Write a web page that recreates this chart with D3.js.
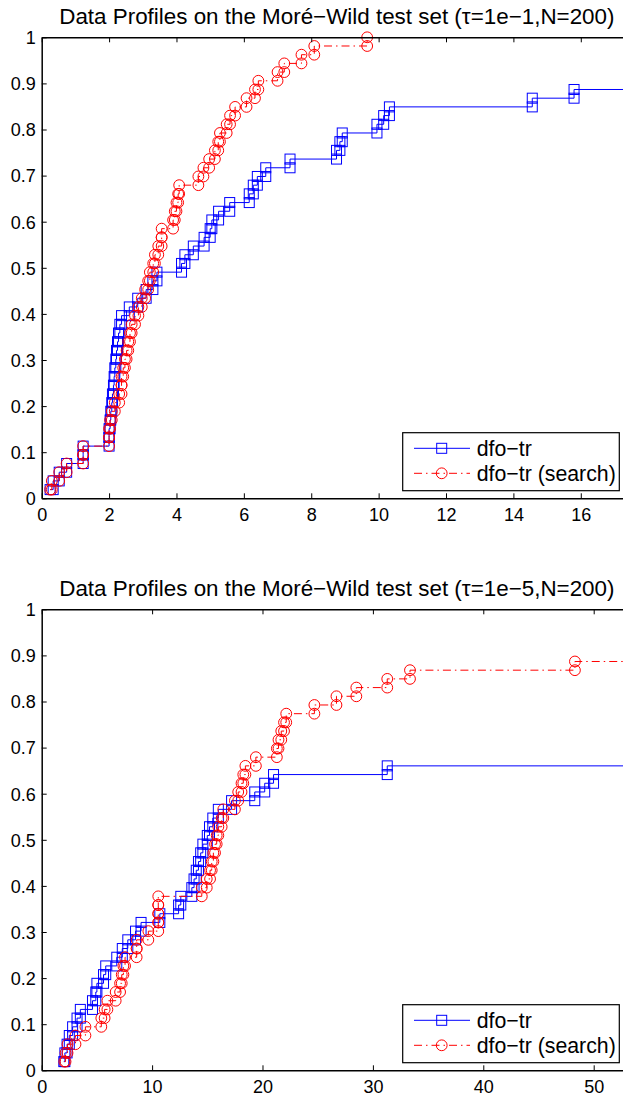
<!DOCTYPE html>
<html>
<head>
<meta charset="utf-8">
<script src="https://cdn.jsdelivr.net/npm/d3@7"></script>
<style>
  body { margin: 0; background: #fff; }
  svg { display: block; font-family: "Liberation Sans", Arial, sans-serif; }
</style>
</head>
<body>
<svg id="chart" width="623" height="1097"></svg>
<script>
// 53 problems in the More-Wild set, each step is 1/53
const nProblems = 53;
const seriesNames = ["dfo−tr", "dfo−tr (search)"];

const topTitle = "Data Profiles on the Moré−Wild test set (τ=1e−1,N=200)";
const bottomTitle = "Data Profiles on the Moré−Wild test set (τ=1e−5,N=200)";

// sorted x where each problem gets solved
const topBlue = [0.25, 0.34, 0.52, 0.74, 1.23, 1.23, 2.0, 2.0, 2.03, 2.05,
  2.08, 2.1, 2.13, 2.15, 2.17, 2.2, 2.22, 2.25, 2.28, 2.32,
  2.37, 2.6, 2.85, 3.1, 3.3, 3.42, 4.15, 4.25, 4.5, 4.82,
  5.0, 5.05, 5.25, 5.58, 6.16, 6.28, 6.4, 6.65, 7.37, 8.75,
  8.85, 8.92, 9.95, 10.15, 10.32, 14.56, 15.8];

const topRed = [0.25, 0.3, 0.52, 0.74, 1.23, 1.23, 2.0, 2.0, 2.03, 2.08,
  2.17, 2.3, 2.37, 2.37, 2.42, 2.47, 2.52, 2.57, 2.62, 2.67,
  2.77, 2.87, 2.97, 3.07, 3.16, 3.21, 3.31, 3.36, 3.46, 3.56,
  3.56, 3.9, 3.95, 4.0, 4.05, 4.08, 4.65, 4.8, 4.97, 5.14,
  5.24, 5.29, 5.49, 5.59, 5.74, 6.08, 6.33, 6.43, 7.0, 7.2,
  7.71, 8.09, 9.66];

const bottomBlue = [2.0, 2.1, 2.3, 2.5, 2.8, 3.2, 3.5, 4.6, 4.9, 5.0,
  5.6, 5.8, 6.8, 7.3, 7.8, 8.5, 9.0, 10.7, 12.4, 12.6,
  13.6, 13.8, 14.0, 14.2, 14.4, 14.6, 15.0, 15.2, 15.5, 16.0,
  17.2, 19.3, 20.2, 21.0, 31.3];

const bottomRed = [2.05, 2.16, 2.34, 3.06, 3.96, 5.4, 5.7, 5.95, 6.7, 7.1,
  7.25, 7.4, 7.55, 8.6, 8.6, 9.66, 10.56, 10.56, 10.56, 10.56,
  14.5, 14.95, 15.25, 15.4, 15.55, 15.7, 15.85, 16.0, 16.3, 16.45,
  17.5, 17.8, 18.1, 18.26, 18.45, 19.4, 21.3, 21.45, 21.7, 21.95,
  22.15, 24.7, 26.7, 28.5, 31.3, 33.36, 48.3];

const topXTicks = [0, 2, 4, 6, 8, 10, 12, 14, 16];
const bottomXTicks = [0, 10, 20, 30, 40, 50];
const yTicks = [0, 0.1, 0.2, 0.3, 0.4, 0.5, 0.6, 0.7, 0.8, 0.9, 1];

const BLUE = "#0000ff", RED = "#ff0000";
const svg = d3.select("#chart");

drawPanel({ top: 0, xMax: 17.52, xTicks: topXTicks, title: topTitle, blue: topBlue, red: topRed });
drawPanel({ top: 572, xMax: 53.47, xTicks: bottomXTicks, title: bottomTitle, blue: bottomBlue, red: bottomRed });

function stairs(xs) {
  const pts = [];
  xs.forEach((x, i) => {
    if (i > 0) pts.push([x, i / nProblems]);
    pts.push([x, (i + 1) / nProblems]);
  });
  return pts;
}

function drawPanel(p) {
  const left = 41.7, right = 632, y0 = p.top + 498.3, y1 = p.top + 37.3;
  const x = d3.scaleLinear().domain([0, p.xMax]).range([left, right]);
  const y = d3.scaleLinear().domain([0, 1]).range([y0, y1]);
  const g = svg.append("g");

  g.append("text")
    .attr("x", (left + right) / 2)
    .attr("y", p.top + 24)
    .attr("text-anchor", "middle")
    .style("font-size", "22.4px")
    .text(p.title);

  const line = d3.line().x(d => x(d[0])).y(d => y(d[1]));

  // blue first, red drawn over it
  [[p.blue, BLUE, null, "square"], [p.red, RED, "8,4,1.5,4", "circle"]].forEach(([xs, col, dash, mk]) => {
    const pts = stairs(xs);
    const last = xs.length / nProblems;
    // flat tail to the right edge (hidden under the box when at 1)
    const ext = last < 1 ? pts.concat([[p.xMax, last]]) : pts;
    g.append("path")
      .attr("d", line(ext))
      .attr("fill", "none")
      .attr("stroke", col)
      .attr("stroke-width", 1)
      .attr("stroke-dasharray", dash);
    drawMarkers(g, pts.map(d => [x(d[0]), y(d[1])]), col, mk);
  });

  const fmt = d => (d === 0 || d === 1) ? String(d) : d.toFixed(1);

  const ax = g.append("g").attr("transform", `translate(${left},0)`)
    .call(d3.axisLeft(y).tickValues(yTicks).tickFormat(fmt).tickSize(-5).tickSizeOuter(0).tickPadding(6));
  const bx = g.append("g").attr("transform", `translate(0,${y0})`)
    .call(d3.axisBottom(x).tickValues(p.xTicks).tickFormat(d3.format("d")).tickSize(-5).tickSizeOuter(0).tickPadding(10));
  const tx = g.append("g").attr("transform", `translate(0,${y1})`)
    .call(d3.axisTop(x).tickValues(p.xTicks).tickFormat("").tickSize(-5).tickSizeOuter(0));

  [ax, bx, tx].forEach(a => {
    a.attr("font-family", null).attr("font-size", null);
    a.selectAll("text").style("font-size", "18px").attr("fill", "#000");
    a.select(".domain").attr("stroke", "#000").attr("stroke-width", 1.5);
    a.selectAll(".tick line").attr("stroke", "#000");
  });
  ax.selectAll(".tick text").attr("dy", "0.35em");

  // legend
  const lx = 402.7, ly = p.top + 432.7;
  const lg = g.append("g");
  lg.append("rect")
    .attr("x", lx).attr("y", ly).attr("width", 216.6).attr("height", 58)
    .attr("fill", "#fff").attr("stroke", "#000").attr("stroke-width", 1.2);
  [[seriesNames[0], BLUE, null, "square"], [seriesNames[1], RED, "8,4,1.5,4", "circle"]].forEach(([name, col, dash, mk], i) => {
    const ry = ly + 15.6 + i * 25;
    lg.append("line")
      .attr("x1", lx + 11.3).attr("x2", lx + 67.3)
      .attr("y1", ry).attr("y2", ry)
      .attr("stroke", col).attr("stroke-dasharray", dash);
    drawMarkers(lg, [[lx + 39, ry]], col, mk);
    lg.append("text")
      .attr("x", lx + 74).attr("y", ry)
      .attr("dy", "0.35em")
      .style("font-size", "21.3px")
      .text(name);
  });
}

function drawMarkers(g, pts, col, mk) {
  if (mk === "square") {
    g.selectAll(null).data(pts).enter().append("rect")
      .attr("x", d => d[0] - 5).attr("y", d => d[1] - 5)
      .attr("width", 10).attr("height", 10)
      .attr("fill", "none").attr("stroke", col).attr("stroke-width", 1);
  } else {
    g.selectAll(null).data(pts).enter().append("circle")
      .attr("cx", d => d[0]).attr("cy", d => d[1]).attr("r", 5.4)
      .attr("fill", "none").attr("stroke", col).attr("stroke-width", 1);
  }
}
</script>
</body>
</html>
